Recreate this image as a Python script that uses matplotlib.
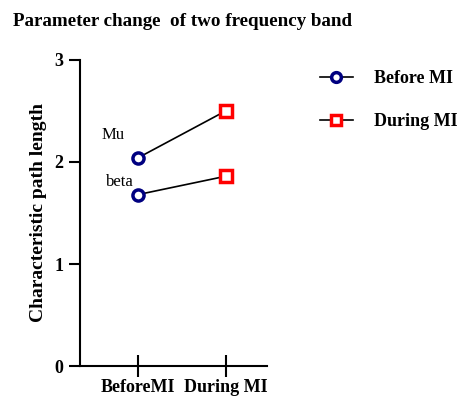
import matplotlib.pyplot as plt

# data
conditions = ["BeforeMI", "During MI"]
mu_values = [2.04, 2.50]
beta_values = [1.68, 1.86]
band_names = ["Mu", "beta"]

plt.rcParams["font.family"] = ["Liberation Serif", "DejaVu Serif"]

fig = plt.figure(figsize=(4.57, 3.97), dpi=100)
ax = fig.add_axes([0.175, 0.078, 0.409, 0.771])

xs = [0, 1]
for vals in (mu_values, beta_values):
    ax.plot(xs, vals, color="black", lw=1.2, zorder=1)
    ax.plot(xs[0], vals[0], marker="o", ms=8, mfc="white", mec="#000080",
            mew=2.5, ls="none", zorder=3)
    ax.plot(xs[1], vals[1], marker="s", ms=8, mfc="white", mec="#ff0000",
            mew=2.5, ls="none", zorder=3)

# band labels next to the first points
ax.text(xs[0] - 0.28, mu_values[0] + 0.22, band_names[0], fontsize=12,
        ha="center", va="center")
ax.text(xs[0] - 0.2, beta_values[0] + 0.12, band_names[1], fontsize=12,
        ha="center", va="center")

ax.set_xlim(-0.66, 1.47)
ax.set_ylim(0, 3)
ax.set_yticks([0, 1, 2, 3])
ax.set_xticks(xs)
ax.set_xticklabels(conditions)
for lab in ax.get_xticklabels() + ax.get_yticklabels():
    lab.set_fontweight("bold")
    lab.set_fontsize(13)
ax.tick_params(axis="y", direction="out", length=8, width=1.5, pad=4)
ax.tick_params(axis="x", direction="inout", length=16, width=1.5, pad=1.5)
ax.spines["top"].set_visible(False)
ax.spines["right"].set_visible(False)
for s in ("left", "bottom"):
    ax.spines[s].set_linewidth(1.5)

ax.set_ylabel("Characteristic path length", fontsize=14, fontweight="bold",
              labelpad=5)

fig.text(0.028, 0.945, "Parameter change  of two frequency band",
         fontsize=13.7, fontweight="bold", ha="left", va="center")

h1, = ax.plot([], [], color="black", lw=1.2, marker="o", ms=7, mfc="white",
              mec="#000080", mew=2.5)
h2, = ax.plot([], [], color="black", lw=1.2, marker="s", ms=7, mfc="white",
              mec="#ff0000", mew=2.5)
fig.legend([h1, h2], ["Before MI", "During MI"], loc="upper left",
           bbox_to_anchor=(0.665, 0.865), frameon=False, handlelength=1.8,
           labelspacing=1.45, handletextpad=1.2,
           prop={"weight": "bold", "size": 13})

fig.savefig("out.png", dpi=100)
